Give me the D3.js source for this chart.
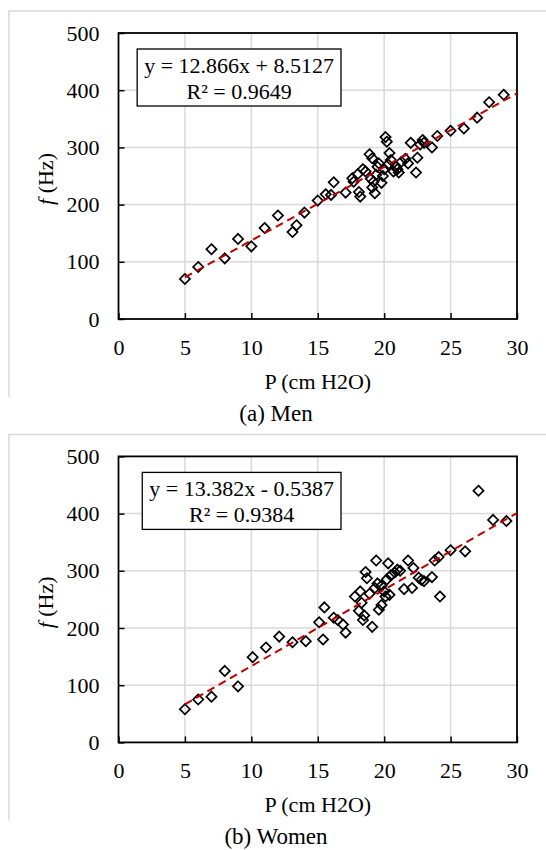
<!DOCTYPE html>
<html>
<head>
<meta charset="utf-8">
<script src="https://cdn.jsdelivr.net/npm/d3@7"></script>
<style>
  body { margin: 0; background: #fff; }
  svg { display: block; }
  svg text { font-family: "Liberation Serif", "Times New Roman", Times, "DejaVu Serif", serif; fill: #000; }
</style>
</head>
<body>
<svg width="546" height="850"></svg>
<script>
// axis ticks
var xTicks = [0, 5, 10, 15, 20, 25, 30];
var yTicks = [0, 100, 200, 300, 400, 500];

// (a) Men : P (cm H2O) vs f (Hz)
var menP = [5, 6, 7, 8, 9, 10, 11, 12, 13.1, 13.4, 14, 15, 15.6, 16, 16.2, 17.1,
  17.6, 17.7, 18.0, 18.1, 18.2, 18.4, 18.6, 18.9, 19.0, 19.1, 19.1, 19.2, 19.3,
  19.4, 19.5, 19.6, 19.8, 19.9, 20.0, 20.1, 20.2, 20.3, 20.4, 20.5, 20.7, 20.9,
  21.0, 21.1, 21.3, 21.6, 21.8, 22.0, 22.4, 22.5, 22.7, 22.9, 23.0, 23.6, 24.0,
  25.0, 26.0, 27.0, 27.9, 29.0];
var menF = [70, 91, 122, 106, 140, 127, 159, 181, 152, 164, 186, 207, 218, 217, 239, 221,
  246, 240, 253, 222, 214, 262, 258, 288, 245, 281, 230, 240, 220,
  252, 266, 272, 238, 250, 262, 318, 310, 270, 290, 278, 258, 266,
  262, 256, 275, 280, 272, 308, 256, 282, 305, 313, 308, 300, 320,
  329, 333, 352, 379, 392];

// (b) Women
var womenP = [5, 6, 7, 8, 9, 10.1, 11.1, 12.1, 13.1, 14.1, 15.1, 15.4, 15.5, 16.2, 16.5,
  16.9, 17.1, 17.8, 18.1, 18.2, 18.3, 18.4, 18.5, 18.6, 18.7, 18.9, 19.1, 19.3,
  19.4, 19.5, 19.6, 19.8, 19.8, 20.0, 20.1, 20.2, 20.3, 20.4, 20.5, 20.8, 21.0,
  21.2, 21.5, 21.8, 22.1, 22.2, 22.6, 22.8, 23.0, 23.6, 23.8, 24.1, 24.2, 25.0,
  26.1, 27.1, 28.2, 29.2];
var womenF = [58, 75, 80, 125, 98, 149, 166, 185, 175, 177, 210, 180, 236, 218, 214,
  206, 192, 255, 230, 264, 244, 214, 222, 298, 287, 260, 202, 270,
  318, 278, 232, 240, 274, 264, 255, 285, 313, 258, 292, 297, 302,
  300, 268, 318, 270, 305, 288, 284, 282, 289, 318, 324, 255, 336,
  334, 440, 389, 387];

// linear fits shown in the boxes
var slopes = [12.866, 13.382];
var intercepts = [8.5127, -0.5387];
var eqLabels = ["y = 12.866x + 8.5127", "y = 13.382x - 0.5387"];
var r2Labels = ["R\u00b2 = 0.9649", "R\u00b2 = 0.9384"];
var captions = ["(a) Men", "(b) Women"];

var svg = d3.select("svg");
var serif = "'Liberation Serif', 'Times New Roman', Times, 'DejaVu Serif', serif";

var x = d3.scaleLinear().domain([0, 30]).range([118.5, 517]);
var y = d3.scaleLinear().domain([0, 500]).range([319, 33]);

var diamond = "M0,-5.1L5.1,0L0,5.1L-5.1,0Z";

function drawPanel(i, P, F, top) {
  var g = svg.append("g").attr("transform", "translate(0," + top + ")");
  var pts = P.map(function(p, k) { return { p: p, f: F[k] }; });

  // chart area frame (cropped on the right / bottom)
  g.append("path")
    .attr("d", "M9,397V11H548")
    .attr("fill", "none")
    .attr("stroke", "#d9d9d9")
    .attr("stroke-width", 1.5);

  // gridlines
  g.append("g").selectAll("line")
    .data(xTicks.slice(1, -1))
    .enter().append("line")
    .attr("x1", function(d) { return x(d); })
    .attr("x2", function(d) { return x(d); })
    .attr("y1", y(0)).attr("y2", y(500))
    .attr("stroke", "#d9d9d9").attr("stroke-width", 1.5);
  g.append("g").selectAll("line")
    .data(yTicks.slice(1, -1))
    .enter().append("line")
    .attr("y1", function(d) { return y(d); })
    .attr("y2", function(d) { return y(d); })
    .attr("x1", x(0)).attr("x2", x(30))
    .attr("stroke", "#d9d9d9").attr("stroke-width", 1.5);

  // axes, ticks inside
  var xAxis = g.append("g")
    .attr("transform", "translate(0," + y(0) + ")")
    .call(d3.axisBottom(x).tickValues(xTicks).tickSizeInner(-6).tickSizeOuter(0).tickPadding(20));
  var yAxis = g.append("g")
    .attr("transform", "translate(" + x(0) + ",0)")
    .call(d3.axisLeft(y).tickValues(yTicks).tickSizeInner(-6).tickSizeOuter(0).tickPadding(19));
  [xAxis, yAxis].forEach(function(a) {
    a.attr("font-family", serif).attr("font-size", 22);
    a.select(".domain").remove();
    a.selectAll("line").attr("stroke", "#000").attr("stroke-width", 1.5);
    a.selectAll("text").attr("fill", "#000");
  });

  // plot border
  g.append("rect")
    .attr("x", x(0)).attr("y", y(500))
    .attr("width", x(30) - x(0)).attr("height", y(0) - y(500))
    .attr("fill", "none").attr("stroke", "#000").attr("stroke-width", 1.8);

  // markers
  g.append("g").selectAll("path")
    .data(pts)
    .enter().append("path")
    .attr("d", diamond)
    .attr("transform", function(d) { return "translate(" + x(d.p) + "," + y(d.f) + ")"; })
    .attr("fill", "none")
    .attr("stroke", "#000")
    .attr("stroke-width", 1.7);

  // trend line
  var line = d3.line()
    .x(function(d) { return x(d); })
    .y(function(d) { return y(slopes[i] * d + intercepts[i]); });
  g.append("path")
    .datum([d3.min(P), 30])
    .attr("d", line)
    .attr("fill", "none")
    .attr("stroke", "#c00000")
    .attr("stroke-width", 2)
    .attr("stroke-dasharray", "8,5");

  // equation box
  var box = g.append("g").attr("font-family", serif).attr("font-size", 22);
  var rect = box.append("rect");
  var t1 = box.append("text")
    .attr("y", 73).attr("text-anchor", "middle")
    .text(eqLabels[i]);
  var t2 = box.append("text")
    .attr("y", 99).attr("text-anchor", "middle")
    .text(r2Labels[i]);
  var w = t1.node().getComputedTextLength() + 14;
  var right = 341;
  rect.attr("x", right - w).attr("y", 49).attr("width", w).attr("height", 57)
    .attr("fill", "#fff").attr("stroke", "#000").attr("stroke-width", 1.3);
  t1.attr("x", right - w / 2);
  t2.attr("x", right - w / 2);

  // axis titles
  g.append("text")
    .attr("x", (x(0) + x(30)) / 2).attr("y", 389)
    .attr("text-anchor", "middle")
    .attr("font-family", serif).attr("font-size", 22)
    .text("P (cm H2O)");
  var yt = g.append("text")
    .attr("transform", "translate(53,179) rotate(-90)")
    .attr("text-anchor", "middle")
    .attr("font-family", serif).attr("font-size", 22);
  yt.append("tspan").attr("font-style", "italic").text("f");
  yt.append("tspan").text(" (Hz)");

  // caption
  g.append("text")
    .attr("x", 276).attr("y", 421)
    .attr("text-anchor", "middle")
    .attr("font-family", serif).attr("font-size", 23)
    .text(captions[i]);
}

drawPanel(0, menP, menF, 0);
drawPanel(1, womenP, womenF, 423.4);
</script>
</body>
</html>
